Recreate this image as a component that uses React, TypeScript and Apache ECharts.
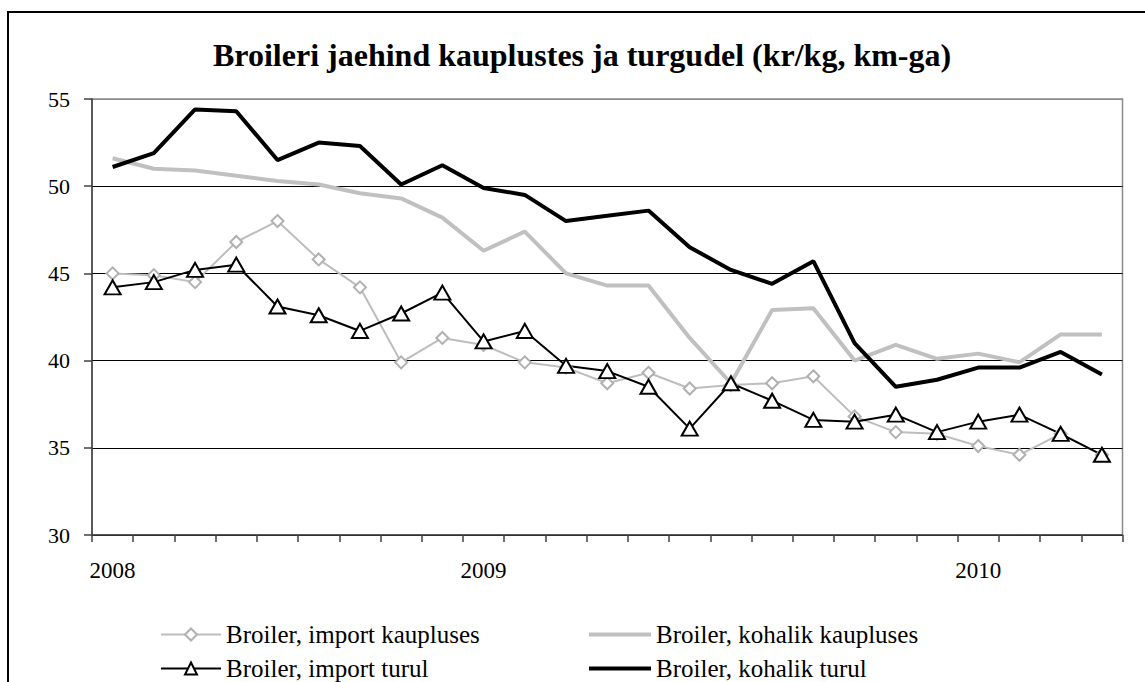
import React, { useEffect, useRef } from "react";
import * as echarts from "echarts";

// Monthly periods shown on the category axis
const periods = [
  "2008-04", "2008-05", "2008-06", "2008-07", "2008-08", "2008-09", "2008-10", "2008-11", "2008-12",
  "2009-01", "2009-02", "2009-03", "2009-04", "2009-05", "2009-06", "2009-07", "2009-08", "2009-09",
  "2009-10", "2009-11", "2009-12",
  "2010-01", "2010-02", "2010-03", "2010-04",
];

const seriesNames = [
  "Broiler, import kaupluses",
  "Broiler, kohalik kaupluses",
  "Broiler, import turul",
  "Broiler, kohalik turul",
];

const importKaupluses = [
  45.0, 44.9, 44.5, 46.8, 48.0, 45.8, 44.2, 39.9, 41.3, 40.9, 39.9, 39.6, 38.7,
  39.3, 38.4, 38.6, 38.7, 39.1, 36.8, 35.9, 35.8, 35.1, 34.6, 35.8, 34.6,
];
const kohalikKaupluses = [
  51.6, 51.0, 50.9, 50.6, 50.3, 50.1, 49.6, 49.3, 48.2, 46.3, 47.4, 45.0, 44.3,
  44.3, 41.3, 38.7, 42.9, 43.0, 40.0, 40.9, 40.1, 40.4, 39.9, 41.5, 41.5,
];
const importTurul = [
  44.2, 44.5, 45.2, 45.5, 43.1, 42.6, 41.7, 42.7, 43.9, 41.1, 41.7, 39.7, 39.4,
  38.5, 36.1, 38.7, 37.7, 36.6, 36.5, 36.9, 35.9, 36.5, 36.9, 35.8, 34.6,
];
const kohalikTurul = [
  51.1, 51.9, 54.4, 54.3, 51.5, 52.5, 52.3, 50.1, 51.2, 49.9, 49.5, 48.0, 48.3,
  48.6, 46.5, 45.2, 44.4, 45.7, 41.0, 38.5, 38.9, 39.6, 39.6, 40.5, 39.2,
];

const yMin = 30;
const yMax = 55;
const yStep = 5;

const titleText = "Broileri jaehind kauplustes ja turgudel (kr/kg, km-ga)";
const FONT = "Liberation Serif, Times New Roman, Times, serif";

function yearLabel(value: string, index: number): string {
  const parts = value.split("-");
  return index === 0 || parts[1] === "01" ? parts[0] : "";
}

export default function App() {
  const ref = useRef<HTMLDivElement>(null);

  useEffect(() => {
    if (!ref.current) return;
    const chart = echarts.init(ref.current, null, { renderer: "svg" });
    const legendText = { fontFamily: FONT, fontSize: 25, color: "#000", lineHeight: 24 };
    chart.setOption({
      animation: false,
      backgroundColor: "#ffffff",
      title: {
        text: titleText,
        left: 213,
        top: 39,
        padding: 0,
        textStyle: {
          fontFamily: FONT,
          fontWeight: "bold",
          fontSize: 32,
          color: "#000",
        },
      },
      graphic: [
        {
          type: "rect",
          silent: true,
          z: -10,
          shape: { x: 8, y: 12, width: 1150, height: 700 },
          style: { fill: "none", stroke: "#000", lineWidth: 2 },
        },
      ],
      legend: [
        {
          orient: "vertical",
          left: 160,
          top: 622,
          width: 400,
          height: 70,
          padding: 0,
          itemGap: 9,
          itemWidth: 60,
          itemHeight: 15,
          data: [seriesNames[0], seriesNames[2]],
          textStyle: legendText,
        },
        {
          orient: "vertical",
          left: 589,
          top: 622,
          width: 450,
          height: 70,
          padding: 0,
          itemGap: 9,
          itemWidth: 62,
          itemHeight: 4,
          icon: "rect",
          data: [seriesNames[1], seriesNames[3]],
          textStyle: legendText,
        },
      ],
      grid: {
        left: 92,
        right: 22.5,
        top: 99,
        bottom: 147,
        show: true,
        borderColor: "#8a8a8a",
        borderWidth: 1.5,
        backgroundColor: "transparent",
      },
      xAxis: {
        type: "category",
        data: periods,
        boundaryGap: true,
        axisLine: { show: true, lineStyle: { color: "#404040", width: 1.5 } },
        axisTick: {
          show: true,
          interval: 0,
          alignWithLabel: false,
          length: 7,
          lineStyle: { color: "#404040", width: 1.5 },
        },
        axisLabel: {
          interval: 0,
          margin: 24,
          fontFamily: FONT,
          fontSize: 23,
          color: "#000",
          formatter: (value: string, index: number) => yearLabel(value, index),
        },
        splitLine: { show: false },
      },
      yAxis: {
        type: "value",
        min: yMin,
        max: yMax,
        interval: yStep,
        axisLine: { show: true, lineStyle: { color: "#404040", width: 1.5 } },
        axisTick: { show: true, length: 8, lineStyle: { color: "#404040", width: 1.5 } },
        axisLabel: {
          margin: 22,
          fontFamily: FONT,
          fontSize: 22,
          color: "#000",
        },
        splitLine: {
          show: true,
          lineStyle: {
            color: ["#000", "#000", "#000", "#000", "#000", "#8a8a8a"],
            width: 1,
          },
        },
      },
      series: [
        {
          name: seriesNames[0],
          type: "line",
          data: importKaupluses,
          symbol: "diamond",
          symbolSize: 12,
          showSymbol: true,
          lineStyle: { color: "#bdbdbd", width: 2 },
          itemStyle: { color: "#ffffff", borderColor: "#b0b0b0", borderWidth: 2 },
          emphasis: { disabled: true },
        },
        {
          name: seriesNames[1],
          type: "line",
          data: kohalikKaupluses,
          symbol: "none",
          lineStyle: { color: "#c0c0c0", width: 4 },
          itemStyle: { color: "#c0c0c0" },
          emphasis: { disabled: true },
        },
        {
          name: seriesNames[2],
          type: "line",
          data: importTurul,
          symbol: "triangle",
          symbolSize: [16, 14],
          showSymbol: true,
          lineStyle: { color: "#000", width: 2 },
          itemStyle: { color: "#ffffff", borderColor: "#000", borderWidth: 2 },
          emphasis: { disabled: true },
        },
        {
          name: seriesNames[3],
          type: "line",
          data: kohalikTurul,
          symbol: "none",
          lineStyle: { color: "#000", width: 4 },
          itemStyle: { color: "#000" },
          emphasis: { disabled: true },
        },
      ],
    });
    return () => chart.dispose();
  }, []);

  return (
    <div
      ref={ref}
      style={{
        position: "fixed",
        left: 0,
        top: 0,
        width: 1145,
        height: 682,
        background: "#fff",
      }}
    />
  );
}
